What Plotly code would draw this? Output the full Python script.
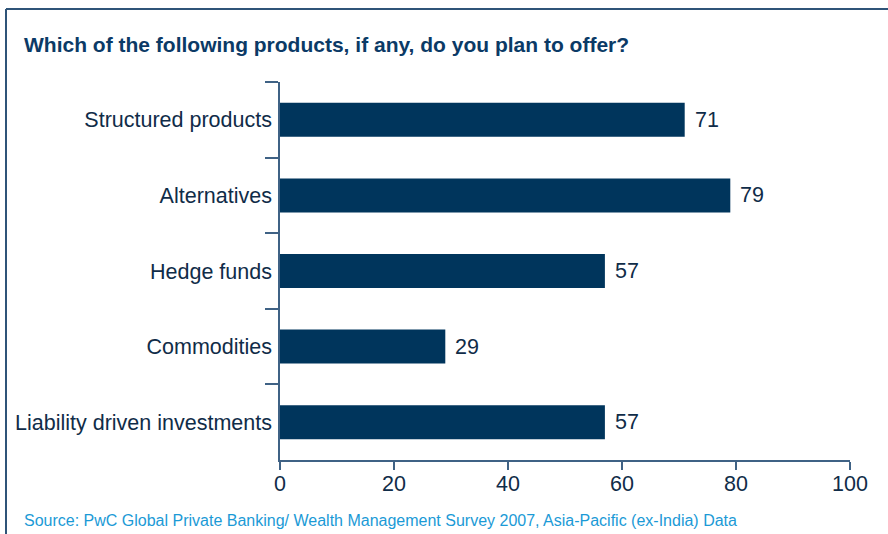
import plotly.graph_objects as go

categories = ["Structured products", "Alternatives", "Hedge funds", "Commodities", "Liability driven investments"]
values = [71, 79, 57, 29, 57]
x_ticks = [0, 20, 40, 60, 80, 100]

BAR = "#00355c"
TXT = "#102c48"
AX = "#3f6285"
FONT = "Liberation Sans, Arial"

fig = go.Figure()
fig.add_trace(go.Bar(
    y=categories, x=values, orientation="h",
    marker=dict(color=BAR, line=dict(width=0)),
    hoverinfo="skip",
))

for c, v in zip(categories, values):
    fig.add_annotation(x=v, y=c, text=str(v), showarrow=False, xanchor="left",
                       xshift=8, font=dict(size=21.5, color=TXT, family=FONT))

fig.update_layout(
    width=888, height=534,
    margin=dict(l=280, r=38, t=82, b=74),
    paper_bgcolor="white", plot_bgcolor="white",
    bargap=0.55,
    showlegend=False,
    font=dict(family=FONT, color=TXT, size=21.5),
    xaxis=dict(range=[0, 100], tickvals=x_ticks, showgrid=False, zeroline=False,
               showline=True, linecolor=AX, linewidth=1.5,
               ticks="outside", ticklen=8, tickcolor=AX, tickwidth=1.5,
               ticklabelstandoff=-5,
               tickfont=dict(size=21.5, color=TXT)),
    yaxis=dict(categoryorder="array", categoryarray=categories, autorange="reversed",
               showgrid=False, zeroline=False, showline=True, linecolor=AX, linewidth=1.5,
               ticks="outside", ticklen=13, tickcolor=AX, tickwidth=1.5, tickson="boundaries",
               ticklabelstandoff=2,
               tickfont=dict(size=21.5, color=TXT)),
)

# frame lines (top and left)
fig.add_shape(type="line", xref="paper", yref="paper", x0=-274/570, x1=608/570, y0=1 + 73/378, y1=1 + 73/378,
              line=dict(color="#2f5478", width=2))
fig.add_shape(type="line", xref="paper", yref="paper", x0=-274/570, x1=-274/570, y0=1 + 73/378, y1=-80/378,
              line=dict(color="#2f5478", width=2))

fig.add_annotation(text="<b>Which of the following products, if any, do you plan to offer?</b>",
                   xref="paper", yref="paper", x=-258/570, y=1 + 37/378, xanchor="left", yanchor="middle",
                   showarrow=False, font=dict(size=21, color="#0b3a66", family=FONT))
fig.add_annotation(text="Source: PwC Global Private Banking/ Wealth Management Survey 2007, Asia-Pacific (ex-India) Data",
                   xref="paper", yref="paper", x=-258/570, y=-60/378, xanchor="left", yanchor="middle",
                   showarrow=False, font=dict(size=16, color="#1b9ad6", family=FONT))

fig.write_html("out.html")
